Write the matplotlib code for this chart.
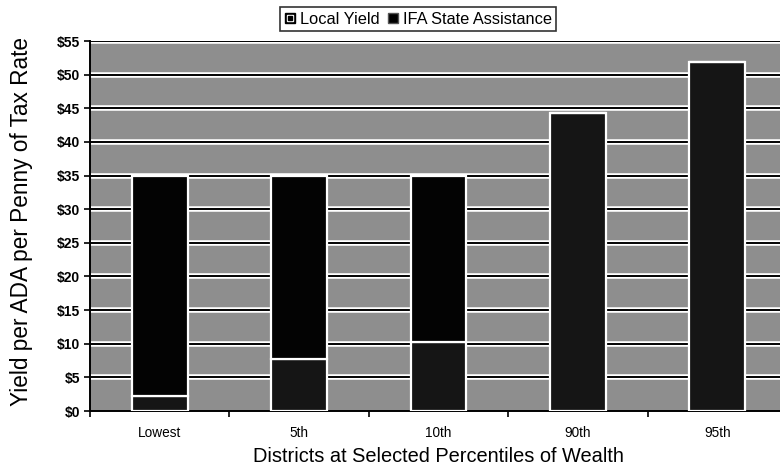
import matplotlib
matplotlib.use("Agg")
import matplotlib.pyplot as plt
import numpy as np
from matplotlib.lines import Line2D
from matplotlib.legend_handler import HandlerTuple

plt.rcParams["font.family"] = ["Liberation Sans", "DejaVu Sans"]

# yield per ADA per penny of tax rate, by district wealth percentile
categories = ["Lowest", "5th", "10th", "90th", "95th"]
local_yield = [2.2, 7.8, 10.2, 44.3, 51.9]
ifa_state = [32.8, 27.2, 24.8, 0.0, 0.0]
yticks = np.arange(0, 56, 5)

fig = plt.figure(figsize=(7.8, 4.72), dpi=100)
ax = fig.add_axes([90 / 780, 61 / 472, 697 / 780, 370 / 472])
ax.set_facecolor("#8e8e8e")

x = np.arange(len(categories))
w = 0.4

# gridlines: black rule with a white halo
for v in yticks[1:]:
    ax.axhline(v, color="white", lw=4.0, zorder=1)
    ax.axhline(v, color="black", lw=1.4, zorder=2)

ax.bar(x, local_yield, w, color="#151515", edgecolor="white", lw=1.6, zorder=3)
ax.bar(x, ifa_state, w, bottom=local_yield, color="#030303",
       edgecolor="white", lw=1.6, zorder=3)

ax.set_xlim(-0.5, len(categories) - 0.5)
ax.set_ylim(0, 55)
ax.set_yticks(yticks)
ax.set_yticklabels(["$%d" % v for v in yticks], fontsize=10, fontweight="bold")
ax.set_xticks(x)
ax.set_xticklabels(categories, fontsize=9.8)
ax.set_xticks(np.arange(-0.5, len(categories), 1), minor=True)
ax.tick_params(axis="x", which="major", length=0, pad=11)
ax.tick_params(axis="x", which="minor", length=4, width=1.2, direction="out")
ax.tick_params(axis="y", length=4, width=1.2, pad=3)

for s in ["top", "right"]:
    ax.spines[s].set_visible(False)
ax.spines["left"].set_linewidth(1.4)
ax.spines["bottom"].set_linewidth(1.4)

fig.text(22 / 780, 1 - 222 / 472, "Yield per ADA per Penny of Tax Rate",
         rotation=90, ha="center", va="center", fontsize=16.3)
ax.set_xlabel("Districts at Selected Percentiles of Wealth", fontsize=14.4,
              labelpad=5)

# legend markers: boxed square for local, solid square for state aid
h_local = (Line2D([], [], marker="s", ls="", ms=7.5, mfc="black", mec="black"),
           Line2D([], [], marker="s", ls="", ms=4.8, mfc="white", mec="white"),
           Line2D([], [], marker="s", ls="", ms=2.3, mfc="black", mec="black"))
h_ifa = Line2D([], [], marker="s", ls="", ms=7.5, mfc="black", mec="#555555")
leg = fig.legend([h_local, h_ifa], ["Local Yield", "IFA State Assistance"],
                 handler_map={tuple: HandlerTuple(ndivide=1)},
                 loc="center", bbox_to_anchor=(418 / 780, 1 - 19 / 472),
                 ncol=2, fontsize=11.8, frameon=True, fancybox=False,
                 edgecolor="black", handlelength=0.7, handletextpad=0.25,
                 columnspacing=0.5, borderpad=0.25, borderaxespad=0)
leg.get_frame().set_linewidth(1.2)

fig.savefig("out.png", dpi=100)
